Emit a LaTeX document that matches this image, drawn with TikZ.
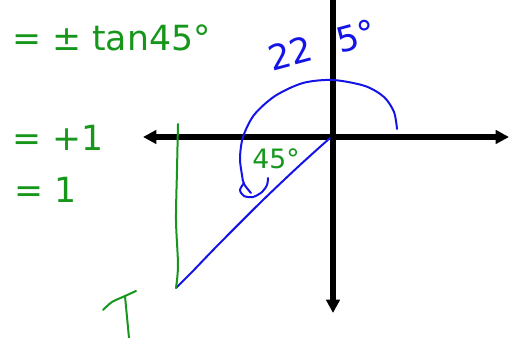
\documentclass[tikz,border=0pt]{standalone}
\usepackage{fontspec}
\setmainfont{DejaVu Sans}
\usepackage{tikz}
\usetikzlibrary{arrows.meta}
\definecolor{penblue}{HTML}{1414E6}
\definecolor{pengreen}{HTML}{16961A}

\tikzset{
  axisline/.style={black, line width=3.8pt, -{Triangle[length=10pt,width=10pt]}},
  blueink/.style={penblue, line width=1.5pt, line cap=round, line join=round},
  greenink/.style={pengreen, line width=1.5pt, line cap=round, line join=round},
  handtext/.style={inner sep=0pt, font=\fontsize{26}{30}\selectfont}
}

\begin{document}
\begin{tikzpicture}[x=0.75pt, y=-0.75pt]
  \useasboundingbox (0,0) rectangle (510,338);
  \coordinate (origin) at (333,137);
  \coordinate (leftend) at (143,137);
  \coordinate (rightend) at (509,137);
  \coordinate (topend) at (333,0);
  \coordinate (bottomend) at (333,313);
  \coordinate (corner) at (176,288);
  \draw[axisline] (origin) -- (leftend);
  \draw[axisline] (origin) -- (rightend);
  \draw[axisline] (origin) -- (bottomend);
  \draw[black, line width=3.8pt] (origin) -- (topend);
  \draw[blueink] plot[smooth] coordinates {(397,129) (394,112) (384,97) (365,86) (333,80) (303,83) (275,96) (254,115) (243,137) (240,158) (242,175) (244,184) (251,193)};
  \draw[blueink] plot[smooth] coordinates {(244,183) (240,190) (244,196) (253,197) (262,192) (267,185) (268,178)};
  \draw[blueink] plot[smooth] coordinates {(330,138) (300,165) (262,201) (218,245) (192,272) (corner)};
  \draw[greenink] plot[smooth] coordinates {(178,124) (177,170) (176,220) (178,265) (corner)};
  \draw[greenink] plot[smooth] coordinates {(103,310) (112,302) (125,296) (136,291)};
  \draw[greenink] (125,296) -- (129,338);
  \node[handtext, text=penblue, rotate=15] (anglelabel) at (322,45) {22\hspace{0.75em}5°};
  \node[handtext, text=pengreen, font=\fontsize{20}{22}\selectfont] (refangle) at (276,159) {45°};
  \node[handtext, text=pengreen, anchor=west] (tanline) at (12,38) {= ± tan45°};
  \node[handtext, text=pengreen, anchor=west] (plusone) at (12,138) {= +1};
  \node[handtext, text=pengreen, anchor=west] (one) at (14,190) {= 1};
\end{tikzpicture}
\end{document}
